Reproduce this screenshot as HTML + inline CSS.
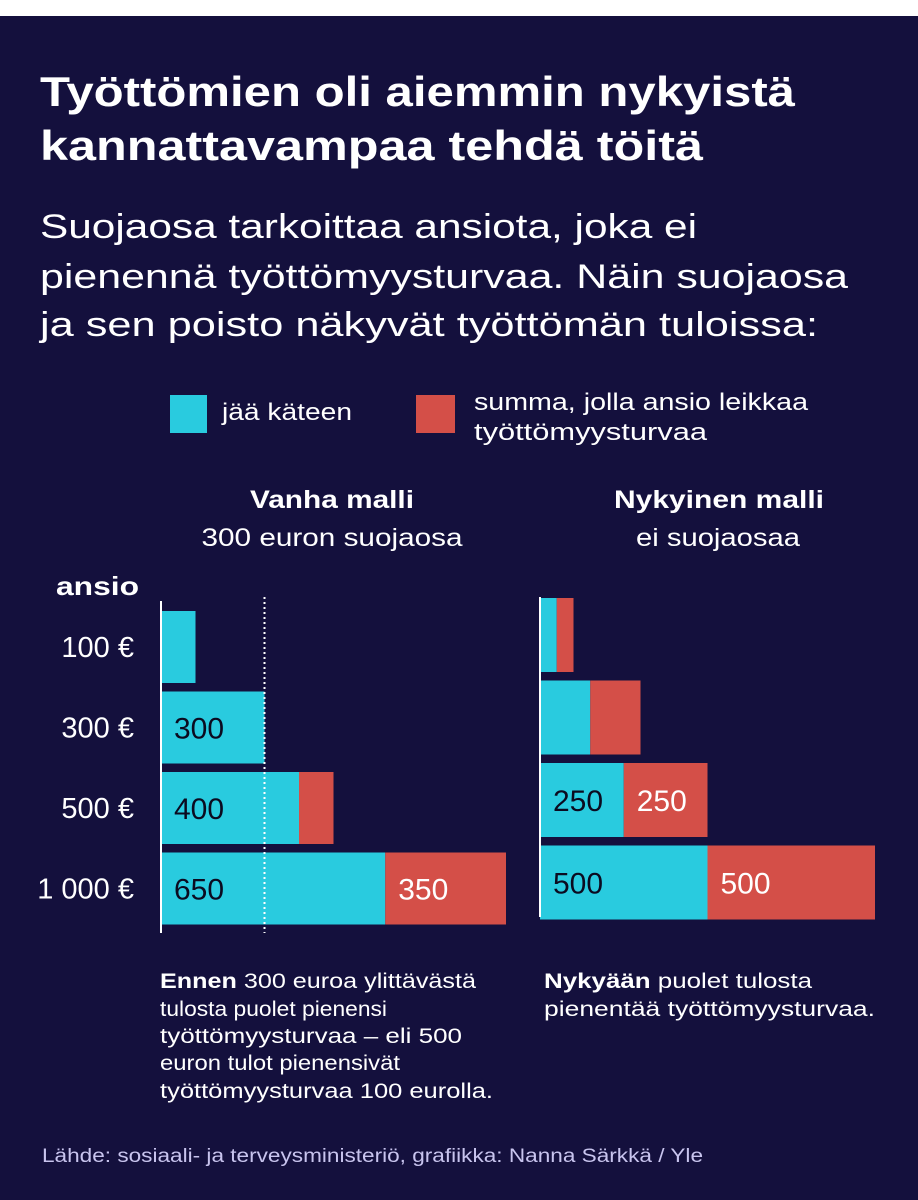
<!DOCTYPE html>
<html><head><meta charset="utf-8"><style>
html,body{margin:0;padding:0;background:#fff}
svg{display:block;font-family:"Liberation Sans",sans-serif}
</style></head><body>
<svg width="918" height="1200" viewBox="0 0 918 1200">
<rect x="0" y="16" width="918" height="1184" fill="#14103d"/>
<g fill="#fff" font-weight="bold" font-size="42">
<text x="40" y="106" textLength="755" lengthAdjust="spacingAndGlyphs">Työttömien oli aiemmin nykyistä</text>
<text x="40" y="160" textLength="663" lengthAdjust="spacingAndGlyphs">kannattavampaa tehdä töitä</text>
</g>
<g fill="#fff" font-size="34">
<text x="40" y="238" textLength="657" lengthAdjust="spacingAndGlyphs">Suojaosa tarkoittaa ansiota, joka ei</text>
<text x="40" y="288" textLength="808" lengthAdjust="spacingAndGlyphs">pienennä työttömyysturvaa. Näin suojaosa</text>
<text x="40" y="336" textLength="778" lengthAdjust="spacingAndGlyphs">ja sen poisto näkyvät työttömän tuloissa:</text>
</g>
<g>
<rect x="170" y="395" width="37" height="38" fill="#29cbdf"/>
<text x="222" y="420" fill="#fff" font-size="24" textLength="130" lengthAdjust="spacingAndGlyphs">jää käteen</text>
<rect x="416" y="395" width="39" height="38" fill="#d44f48"/>
<text x="474" y="410" fill="#fff" font-size="24" textLength="334" lengthAdjust="spacingAndGlyphs">summa, jolla ansio leikkaa</text>
<text x="474" y="440" fill="#fff" font-size="24" textLength="233" lengthAdjust="spacingAndGlyphs">työttömyysturvaa</text>
</g>
<g fill="#fff" text-anchor="middle" font-size="25">
<text x="332" y="508" font-weight="bold" textLength="164" lengthAdjust="spacingAndGlyphs">Vanha malli</text>
<text x="332" y="546" textLength="261" lengthAdjust="spacingAndGlyphs">300 euron suojaosa</text>
<text x="719" y="508" font-weight="bold" textLength="210" lengthAdjust="spacingAndGlyphs">Nykyinen malli</text>
<text x="718" y="546" textLength="164" lengthAdjust="spacingAndGlyphs">ei suojaosaa</text>
</g>
<text x="56" y="595" fill="#fff" font-size="26" font-weight="bold" textLength="83" lengthAdjust="spacingAndGlyphs">ansio</text>
<g id="charts"></g>
<g fill="#fff" font-size="21">
<text x="160" y="988" textLength="316" lengthAdjust="spacingAndGlyphs"><tspan font-weight="bold">Ennen</tspan> 300 euroa ylittävästä</text>
<text x="160" y="1016" textLength="227" lengthAdjust="spacingAndGlyphs">tulosta puolet pienensi</text>
<text x="160" y="1043" textLength="302" lengthAdjust="spacingAndGlyphs">työttömyysturvaa – eli 500</text>
<text x="160" y="1070" textLength="240" lengthAdjust="spacingAndGlyphs">euron tulot pienensivät</text>
<text x="160" y="1098" textLength="333" lengthAdjust="spacingAndGlyphs">työttömyysturvaa 100 eurolla.</text>
</g>
<g fill="#fff" font-size="21">
<text x="544" y="988" textLength="268" lengthAdjust="spacingAndGlyphs"><tspan font-weight="bold">Nykyään</tspan> puolet tulosta</text>
<text x="544" y="1016" textLength="331" lengthAdjust="spacingAndGlyphs">pienentää työttömyysturvaa.</text>
</g>
<text x="42" y="1162" fill="#c8c4ee" font-size="19" textLength="661" lengthAdjust="spacingAndGlyphs">Lähde: sosiaali- ja terveysministeriö, grafiikka: Nanna Särkkä / Yle</text>
</svg>
<script>
const categories = ["100 €", "300 €", "500 €", "1 000 €"];
const oldKept = [100, 300, 400, 650];
const oldCut = [0, 0, 100, 350];
const newKept = [50, 150, 250, 500];
const newCut = [50, 150, 250, 500];
const oldLabels = ["", "300", "400", "650"];
const oldCutLabels = ["", "", "", "350"];
const newLabels = ["", "", "250", "500"];
const newCutLabels = ["", "", "250", "500"];
const protectedAmount = [300];

const NS = "http://www.w3.org/2000/svg";
const g = document.getElementById("charts");
function mk(tag, attrs, parent) {
  const e = document.createElementNS(NS, tag);
  for (const k in attrs) e.setAttribute(k, attrs[k]);
  (parent || g).appendChild(e);
  return e;
}
function panel(x0, scale, y0, step, h, kept, cut, kl, cl, axisTop, axisBottom, name, labelsY) {
  const xs = v => x0 + v * scale;
  kept.forEach((v, i) => {
    const y = y0 + i * step;
    const r1 = mk("rect", {x: xs(0), y: y, width: xs(v) - xs(0), height: h, fill: "#29cbdf"});
    
    
    if (cut[i] > 0) {
      const r2 = mk("rect", {x: xs(v), y: y, width: xs(v + cut[i]) - xs(v), height: h, fill: "#d44f48"});
      
      
    }
    if (kl[i]) {
      const t = mk("text", {x: xs(0) + 13, y: y + h / 2 + 11, fill: "#0b0b20", "font-size": 30});
      t.textContent = kl[i];
      
      
    }
    if (cl[i]) {
      const t = mk("text", {x: xs(v) + 13, y: y + h / 2 + 11, fill: "#fff", "font-size": 30});
      t.textContent = cl[i];
      
      
    }
    if (labelsY) {
      const t = mk("text", {x: 134, y: y + h / 2 + 10, fill: "#fff", "font-size": 29, "text-anchor": "end"});
      t.textContent = categories[i];
      
      
    }
  });
  const ax = mk("line", {x1: x0, x2: x0, y1: axisTop, y2: axisBottom, stroke: "#fff", "stroke-width": 2});
  
  
  return xs;
}
const xsOld = panel(161, 0.345, 611, 80.5, 72, oldKept, oldCut, oldLabels, oldCutLabels, 601, 933, "old", true);
const dl = mk("line", {x1: xsOld(protectedAmount[0]), x2: xsOld(protectedAmount[0]), y1: 597, y2: 933, stroke: "#fff", "stroke-width": 2, "stroke-dasharray": "2 3"});


panel(540, 0.335, 598, 82.5, 74, newKept, newCut, newLabels, newCutLabels, 597, 917, "new", false);
</script>
</body></html>
